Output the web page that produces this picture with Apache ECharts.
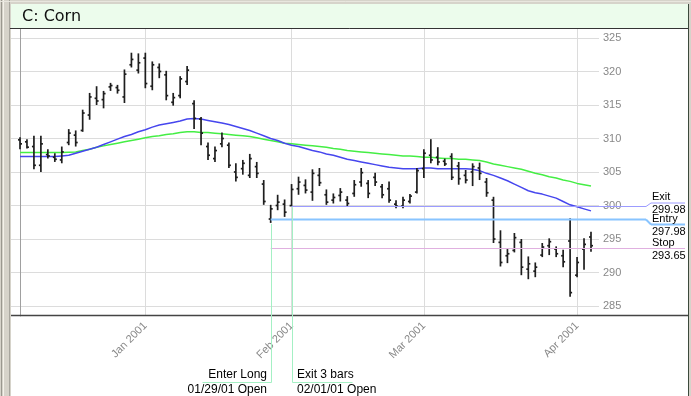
<!DOCTYPE html>
<html><head><meta charset="utf-8">
<script src="https://cdn.jsdelivr.net/npm/echarts@6.0.0/dist/echarts.min.js"></script>
<style>html,body{margin:0;padding:0;background:#fff;overflow:hidden}#main{width:691px;height:396px}</style>
</head><body><div id="main"></div>
<script>
// ---- data ----
const dates = [
 '2000-12-05','2000-12-06','2000-12-07','2000-12-08','2000-12-11','2000-12-12','2000-12-13','2000-12-14','2000-12-15',
 '2000-12-18','2000-12-19','2000-12-20','2000-12-21','2000-12-22','2000-12-26','2000-12-27','2000-12-28','2000-12-29',
 '2001-01-02','2001-01-03','2001-01-04','2001-01-05','2001-01-08','2001-01-09','2001-01-10','2001-01-11','2001-01-12',
 '2001-01-16','2001-01-17','2001-01-18','2001-01-19','2001-01-22','2001-01-23','2001-01-24','2001-01-25','2001-01-26',
 '2001-01-29','2001-01-30','2001-01-31',
 '2001-02-01','2001-02-02','2001-02-05','2001-02-06','2001-02-07','2001-02-08','2001-02-09','2001-02-12','2001-02-13',
 '2001-02-14','2001-02-15','2001-02-16','2001-02-20','2001-02-21','2001-02-22','2001-02-23','2001-02-26','2001-02-27','2001-02-28',
 '2001-03-01','2001-03-02','2001-03-05','2001-03-06','2001-03-07','2001-03-08','2001-03-09','2001-03-12','2001-03-13',
 '2001-03-14','2001-03-15','2001-03-16','2001-03-19','2001-03-20','2001-03-21','2001-03-22','2001-03-23','2001-03-26',
 '2001-03-27','2001-03-28','2001-03-29','2001-03-30',
 '2001-04-02','2001-04-03','2001-04-04'
];
const openP = [309.8,309.5,308.8,306.0,307.6,307.2,306.8,309.4,310.5,311.2,313.5,316.0,315.8,317.7,317.6,316.2,321.0,320.2,
 322.0,317.8,320.6,319.5,315.4,316.4,318.5,315.2,312.9,308.8,307.0,309.2,309.0,305.0,305.5,304.5,305.8,303.2,
 297.98,300.0,300.2,
 299.98,302.5,303.0,302.0,304.5,301.6,300.8,301.5,300.8,301.8,303.5,303.3,304.2,302.8,302.5,300.2,299.9,300.6,302.0,
 305.5,307.5,307.2,306.6,307.3,305.9,304.5,305.0,305.6,303.5,300.8,294.5,292.5,293.3,294.5,290.5,290.2,292.6,294.0,293.5,292.5,294.7,
 289.6,293.5,295.3];
const highP = [310.2,309.9,310.4,310.4,308.4,307.8,308.8,311.4,311.2,314.3,316.8,317.8,317.1,318.3,318.0,320.3,322.8,322.7,
 322.8,321.5,321.2,320.1,316.8,319.3,320.8,315.7,313.2,309.4,308.8,310.9,309.4,306.3,306.8,307.7,306.5,303.8,
 300.1,301.6,300.9,
 303.2,304.3,303.9,305.4,305.6,302.4,301.8,302.6,301.4,303.8,305.6,303.8,304.9,303.2,303.6,300.8,301.3,301.7,305.6,
 308.4,309.9,308.7,307.0,307.8,306.5,305.3,306.3,306.4,304.1,301.3,296.3,293.5,295.9,295.0,292.4,291.5,294.4,295.1,293.9,293.4,298.1,
 292.3,295.1,296.1];
const lowP = [308.4,308.5,305.4,305.0,307.0,306.5,306.3,309.0,308.8,311.0,312.8,315.0,314.5,317.1,316.7,315.3,320.6,319.7,
 317.5,317.2,319.0,315.7,314.9,316.0,318.0,311.4,309.0,306.8,306.5,308.7,305.6,303.6,304.6,304.1,304.1,300.1,
 297.4,299.3,298.3,
 299.9,301.6,301.8,300.7,302.9,300.1,300.3,300.6,299.9,301.3,302.8,301.1,302.9,301.1,300.4,299.6,299.6,300.3,301.8,
 304.1,306.3,306.0,305.9,303.8,303.1,303.3,302.9,303.8,301.3,294.4,290.9,291.4,293.0,289.6,289.0,289.3,292.3,292.6,292.3,290.8,286.4,
 289.3,290.4,293.1];
const closeP = [309.2,308.7,306.0,309.2,307.4,306.9,308.0,310.8,309.4,313.8,316.2,315.6,316.7,317.9,317.2,319.6,321.8,321.3,
 318.2,321.0,320.0,316.4,316.1,318.9,320.2,313.0,310.8,307.5,308.2,310.0,306.0,304.2,306.3,307.0,304.8,300.6,
 299.5,300.5,299.0,
 302.4,303.5,302.3,304.8,303.4,300.5,301.2,302.0,300.3,303.1,304.9,301.8,303.5,301.6,300.8,299.9,300.8,301.4,305.2,
 307.8,306.8,306.5,306.2,304.2,304.0,303.8,305.8,304.8,301.9,295.0,291.5,292.8,295.2,290.8,291.3,290.8,293.8,294.6,292.8,291.6,287.0,
 291.5,294.2,294.0];
const maFast = [307.3,307.3,307.3,307.3,307.3,307.3,307.4,307.5,307.8,308.1,308.4,308.7,309.1,309.5,309.9,310.3,310.6,311.0,
 311.3,311.7,312.0,312.2,312.4,312.6,312.9,313.0,312.9,312.7,312.5,312.3,312.1,311.8,311.5,311.2,310.8,310.4,
 310.0,309.7,309.3,309.0,308.8,308.5,308.2,308.0,307.7,307.5,307.2,306.9,306.7,306.5,306.3,306.1,305.9,305.7,305.6,305.5,305.5,305.5,
 305.6,305.6,305.5,305.5,305.5,305.5,305.5,305.4,305.2,304.8,304.5,304.1,303.7,303.2,302.7,302.2,301.9,301.7,301.4,301.1,300.6,300.1,
 299.8,299.5,299.2];
const maSlow = [307.9,307.9,307.9,307.9,307.9,307.9,307.9,307.95,308.0,308.2,308.4,308.7,308.9,309.1,309.3,309.5,309.7,309.9,
 310.1,310.3,310.4,310.6,310.7,310.9,311.0,311.0,310.9,310.9,310.8,310.7,310.6,310.5,310.4,310.3,310.1,309.9,
 309.7,309.5,309.3,309.2,309.1,309.0,308.9,308.8,308.7,308.5,308.4,308.2,308.1,308.0,307.9,307.8,307.7,307.6,307.5,307.4,307.4,307.3,
 307.2,307.2,307.1,307.0,307.0,306.9,306.9,306.8,306.7,306.5,306.2,306.0,305.8,305.6,305.4,305.1,304.8,304.6,304.3,304.1,303.8,303.6,
 303.3,303.1,302.9];
const monthTickDates = ['2001-01-02','2001-02-01','2001-03-01','2001-04-02'];
const monthTickLabels = ['Jan 2001','Feb 2001','Mar 2001','Apr 2001'];
const yTicks = [285,290,295,300,305,310,315,320,325];
const levelNames = ['Exit','Entry','Stop'];
const levelValues = [299.98,297.98,293.65];
const levelStartDates = ['2001-02-01','2001-01-29','2001-01-29'];
const levelColors = ['#9c9cff','#88c4ff','#e0b0e0'];
const levelWidths = [1, 2, 1];
const levelTabOffsets = [-3.5,5,0];
const signalNames = ['Enter Long','Exit 3 bars'];
const signalDates = ['2001-01-29','2001-02-01'];
const signalTexts = ['01/29/01 Open','02/01/01 Open'];
const signalSide = [-1, 1];
const signalUnderline = [69, 60];
const titleText = 'C: Corn';

// ---- chart ----
const idx = d => dates.indexOf(d);
const monthIdx = monthTickDates.map(idx);
const FONT = '"Liberation Sans", Arial, sans-serif';

const chart = echarts.init(document.getElementById('main'), null, {renderer: 'canvas'});
const option = {
  backgroundColor: '#ffffff',
  animation: false,
  title: {text: titleText, left: 22, top: 9, padding: 0,
    textStyle: {fontFamily: '"DejaVu Sans", sans-serif', fontSize: 16, fontWeight: 'normal', color: '#111'}},
  grid: {left: 11, top: 29, width: 588, height: 287},
  xAxis: {
    type: 'value', min: -1.2925, max: 83.15,
    axisLine: {show: false}, axisTick: {show: false, customValues: monthIdx},
    axisLabel: {customValues: monthIdx, rotate: 45, margin: 8, color: '#888', fontSize: 11, fontFamily: FONT,
      formatter: v => monthTickLabels[monthIdx.indexOf(Math.round(v))] || ''},
    splitLine: {show: true, lineStyle: {color: '#dcdcdc', width: 1}}
  },
  yAxis: {
    type: 'value', position: 'right', min: 283.51, max: 326.34,
    axisLine: {show: true, lineStyle: {color: '#a0a0a0', width: 1}},
    axisTick: {show: false, customValues: yTicks},
    axisLabel: {customValues: yTicks, margin: 4, color: '#888', fontSize: 11, fontFamily: FONT},
    splitLine: {show: true, lineStyle: {color: '#dcdcdc', width: 1}}
  },
  series: [
    {
      type: 'line', data: maSlow.map((v, i) => [i, v]), showSymbol: false, z: 3,
      lineStyle: {color: '#44ee44', width: 1.5}
    },
    {
      type: 'line', data: maFast.map((v, i) => [i, v]), showSymbol: false, z: 3,
      lineStyle: {color: '#4646ee', width: 1.5}
    },
    {
      type: 'custom', z: 4,
      data: dates.map((d, i) => [i, openP[i], closeP[i], lowP[i], highP[i]]),
      encode: {x: 0, y: [1, 2, 3, 4]},
      renderItem: (params, api) => {
        const x = api.value(0);
        const o = api.coord([x, api.value(1)]);
        const c = api.coord([x, api.value(2)]);
        const l = api.coord([x, api.value(3)]);
        const h = api.coord([x, api.value(4)]);
        const st = {stroke: '#1e1e1e', lineWidth: 1.7};
        return {type: 'group', children: [
          {type: 'line', shape: {x1: h[0], y1: h[1], x2: l[0], y2: l[1]}, style: st},
          {type: 'line', shape: {x1: o[0] - 2, y1: o[1], x2: o[0], y2: o[1]}, style: st},
          {type: 'line', shape: {x1: c[0], y1: c[1], x2: c[0] + 2, y2: c[1]}, style: st}
        ]};
      }
    }
  ]
};
chart.setOption(option);

const px = (i, v) => chart.convertToPixel({seriesIndex: 2}, [i, v]);
const g = [];
let n = 0;
const add = el => { el.id = 'el' + (n++); g.push(el); };
// window frame
add({type: 'rect', shape: {x: 0, y: 0, width: 11, height: 396}, style: {fill: '#d6d3ca'}, z: 10});
add({type: 'line', shape: {x1: 1.5, y1: 0, x2: 1.5, y2: 396}, style: {stroke: '#9a988f', lineWidth: 1}, z: 11});
add({type: 'line', shape: {x1: 3.5, y1: 0, x2: 3.5, y2: 396}, style: {stroke: '#f4f2ea', lineWidth: 1}, z: 11});
add({type: 'line', shape: {x1: 9.5, y1: 0, x2: 9.5, y2: 396}, style: {stroke: '#a8a69e', lineWidth: 1}, z: 11});
add({type: 'rect', shape: {x: 0, y: 0, width: 691, height: 4}, style: {fill: '#d6d3ca'}, z: 10});
add({type: 'line', shape: {x1: 0, y1: 1.5, x2: 691, y2: 1.5}, style: {stroke: '#e8e6de', lineWidth: 1}, z: 11});
add({type: 'rect', shape: {x: 689, y: 0, width: 2, height: 396}, style: {fill: '#d6d3ca'}, z: 10});
// title band
add({type: 'rect', shape: {x: 10.5, y: 3.5, width: 678, height: 25}, style: {fill: '#ecfcec', stroke: '#a0a0a0', lineWidth: 1}, z: 0});
add({type: 'line', shape: {x1: 10, y1: 28.5, x2: 689, y2: 28.5}, style: {stroke: '#333', lineWidth: 1}, z: 11});
add({type: 'line', shape: {x1: 11, y1: 315.5, x2: 689, y2: 315.5}, style: {stroke: '#444', lineWidth: 1.5}, z: 11});
add({type: 'line', shape: {x1: 688.5, y1: 4, x2: 688.5, y2: 396}, style: {stroke: '#3c4a3c', lineWidth: 1}, z: 11});

// level lines with right-side labels
const plotRight = 646, tabEnd = 651, lineEnd = 685, labelX = 652;
for (let k = 0; k < levelValues.length; k++) {
  const v = levelValues[k];
  const s = px(idx(levelStartDates[k]), v);
  const yy = Math.round(s[1]) + 0.5;
  const ty = yy + levelTabOffsets[k];
  const ls = {stroke: levelColors[k], lineWidth: levelWidths[k]};
  add({type: 'line', shape: {x1: s[0], y1: yy, x2: plotRight, y2: yy}, style: ls, z: 5});
  add({type: 'line', shape: {x1: plotRight, y1: yy, x2: tabEnd, y2: ty}, style: ls, z: 5});
  add({type: 'line', shape: {x1: tabEnd, y1: ty, x2: lineEnd, y2: ty}, style: ls, z: 5});
  add({type: 'text', x: labelX, y: ty - 0.5, style: {text: levelNames[k], fill: '#000', font: '11px ' + FONT, verticalAlign: 'bottom'}, z: 12});
  add({type: 'text', x: labelX, y: ty + 1.5, style: {text: v.toFixed(2), fill: '#000', font: '11px ' + FONT, verticalAlign: 'top'}, z: 12});
}

// entry / exit signal annotations
const baseY = 382.5;
for (let k = 0; k < signalDates.length; k++) {
  const i = idx(signalDates[k]);
  const top = px(i, lowP[i]);
  const xx = Math.round(top[0]) + 0.5;
  const side = signalSide[k];
  const ls = {stroke: '#a4f0c4', lineWidth: 1};
  add({type: 'line', shape: {x1: xx, y1: top[1] + 1, x2: xx, y2: baseY}, style: ls, z: 12});
  add({type: 'line', shape: {x1: xx, y1: baseY, x2: xx + side * signalUnderline[k], y2: baseY}, style: ls, z: 12});
  const tx = xx + side * 4.5;
  const align = side < 0 ? 'right' : 'left';
  add({type: 'text', x: tx, y: 374.5, style: {text: signalNames[k], fill: '#000', font: '12px ' + FONT, align: align, verticalAlign: 'middle'}, z: 12});
  add({type: 'text', x: tx, y: 390, style: {text: signalTexts[k], fill: '#000', font: '12px ' + FONT, align: align, verticalAlign: 'middle'}, z: 12});
}
chart.setOption({graphic: {elements: g}});
</script>
</body></html>
